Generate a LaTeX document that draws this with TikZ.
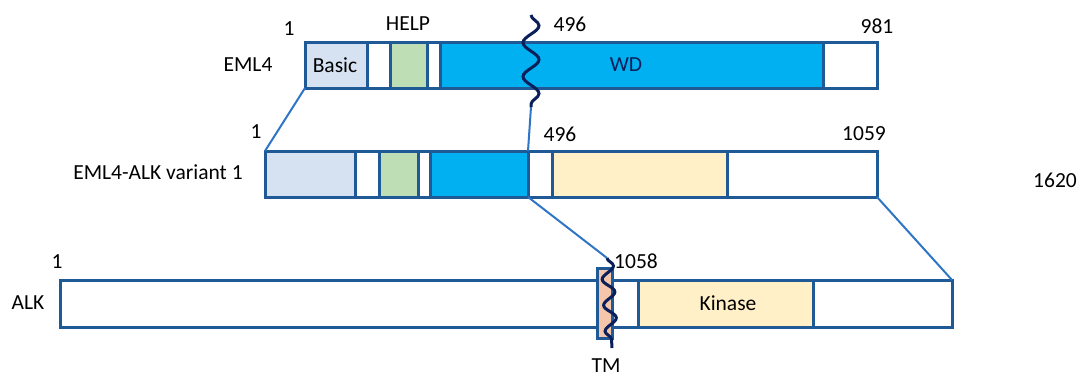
\documentclass[tikz,border=0pt]{standalone}
\usepackage{fontspec}
\setmainfont{Carlito}
\usetikzlibrary{decorations.pathmorphing}

\definecolor{barline}{HTML}{1F5A96}
\definecolor{linkblue}{HTML}{2E75C6}
\definecolor{navy}{HTML}{0A1F5C}
\definecolor{basic}{HTML}{D6E2F2}
\definecolor{help}{HTML}{BEDFB6}
\definecolor{wd}{HTML}{00B0F0}
\definecolor{kinase}{HTML}{FFF0C8}
\definecolor{tm}{HTML}{F6C6AA}

\begin{document}
\begin{tikzpicture}[x=1pt,y=-1pt,
  seg/.style={draw=barline,line width=3pt},
  link/.style={draw=linkblue,line width=2pt},
  wave/.style 2 args={draw=navy,line width=3pt,decorate,
    decoration={snake,amplitude=#1,segment length=#2}},
  lbl/.style={font=\fontsize{21.5}{25}\selectfont,inner sep=0pt}]
\useasboundingbox (0,0) rectangle (1081,378);

% EML4
\node [lbl] (eml) at (248,65) {EML4};
\draw [seg,fill=basic] (305,42) rectangle (367,88);
\draw [seg] (367,42) rectangle (390,88);
\draw [seg,fill=help] (390,42) rectangle (427,88);
\draw [seg] (427,42) rectangle (440,88);
\draw [seg,fill=wd] (440,42) rectangle (823,88);
\draw [seg] (823,42) rectangle (877,88);
\node [lbl] (basic) at (335,65) {Basic};
\node [lbl,text=navy] (wd) at (626,65) {WD};
\node [lbl] (emlone) at (289,29) {1};
\node [lbl] (help) at (408,24) {HELP};
\node [lbl] (emlcut) at (570,24) {496};
\node [lbl] (emlend) at (877,26) {981};

% EML4-ALK variant 1
\node [lbl] (fusion) at (158,172) {EML4-ALK variant 1};
\draw [seg,fill=basic] (265,151) rectangle (355,197);
\draw [seg] (355,151) rectangle (379,197);
\draw [seg,fill=help] (379,151) rectangle (418,197);
\draw [seg] (418,151) rectangle (430,197);
\draw [seg,fill=wd] (430,151) rectangle (528,197);
\draw [seg] (528,151) rectangle (552,197);
\draw [seg,fill=kinase] (552,151) rectangle (727,197);
\draw [seg] (727,151) rectangle (877,197);
\node [lbl] (fusone) at (256,132) {1};
\node [lbl] (fuscut) at (560,134) {496};
\node [lbl] (fusend) at (864,134) {1059};
\node [lbl] (alklen) at (1055,180) {1620};

% ALK
\node [lbl] (alk) at (28,303) {ALK};
\draw [seg] (60,280) rectangle (952,327);
\draw [seg,fill=tm] (597,268) rectangle (612,338);
\draw [seg,fill=kinase] (638,280) rectangle (813,327);
\node [lbl] (kinase) at (728,303) {Kinase};
\node [lbl] (alkone) at (57,262) {1};
\node [lbl] (alkcut) at (636,261) {1058};
\node [lbl] (tmlbl) at (606,366) {TM};

% break points and links between the bars
\coordinate (emlA) at (305,88);
\coordinate (fusA) at (265,151);
\coordinate (emlbreak) at (531,107);
\coordinate (fusbreak) at (528,151);
\coordinate (fusB) at (528,197);
\coordinate (alkbreak) at (607,258);
\coordinate (fusC) at (877,197);
\coordinate (alkC) at (952,280);
\draw [link] (emlA) -- (fusA);
\draw [link] (emlbreak) -- (fusbreak);
\draw [link] (fusB) -- (alkbreak);
\draw [link] (fusC) -- (alkC);
\draw [wave={8pt}{34pt}] (531,15) -- (emlbreak);
\draw [wave={6pt}{26pt}] (alkbreak) -- (612,348);
\end{tikzpicture}
\end{document}
